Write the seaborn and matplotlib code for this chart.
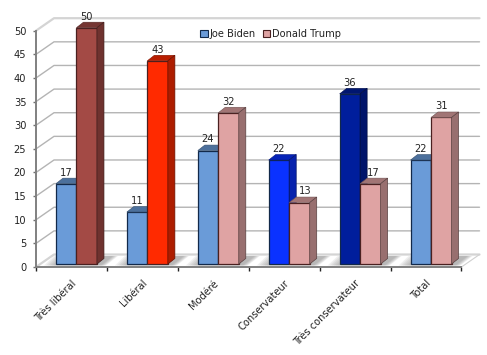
import matplotlib
matplotlib.use('Agg')
import matplotlib.pyplot as plt
from matplotlib.colors import to_rgb
from matplotlib.patches import Polygon
import pandas as pd
import seaborn as sns

groups = ['Très libéral', 'Libéral', 'Modéré', 'Conservateur', 'Très conservateur', 'Total']
biden = [17, 11, 24, 22, 36, 22]
trump = [50, 43, 32, 13, 17, 31]
biden_colors = ['#6a9bd8', '#6a9bd8', '#6a9bd8', '#0a32ff', '#001e9c', '#6a9bd8']
trump_colors = ['#a34a45', '#ff2a00', '#dfa3a3', '#dfa3a3', '#dfa3a3', '#dfa3a3']
y_ticks = list(range(0, 55, 5))

df = pd.DataFrame({
    'group': groups * 2,
    'value': biden + trump,
    'candidate': ['Joe Biden'] * 6 + ['Donald Trump'] * 6,
})

sns.set_theme(style='white')
plt.rcParams['font.family'] = ['DejaVu Sans']

W, H = 487, 355
fs = 7.1
fig = plt.figure(figsize=(W / 100, H / 100), dpi=100)
ax = fig.add_axes([36 / W, 1 - 267 / H, 425.5 / W, 236.3 / H])

sns.barplot(ax=ax, data=df, x='group', y='value', hue='candidate', order=groups,
            palette={'Joe Biden': '#6a9bd8', 'Donald Trump': '#dfa3a3'},
            width=0.578, gap=0, legend=False)
ax.set_xlim(-0.5, 5.5)
ax.set_ylim(0, 50)
ax.set_xlabel('')
ax.set_ylabel('')

# pixels to data units
px = 1 / (425.5 / 6)
py = 1 / (236.3 / 50)


def darker(color, k):
    return tuple(c * k for c in to_rgb(color))


# back wall and floor
wall_dx, wall_dy = 18 * px, 12.5 * py
for t in y_ticks:
    c = '#d4d4d4' if t in (0, 50) else '#b4b4b4'
    lw = 1.6 if t in (0, 50) else 1.0
    ax.plot([-0.5, -0.5 + wall_dx, 5.5 + wall_dx], [t, t + wall_dy, t + wall_dy],
            color=c, lw=lw, clip_on=False, zorder=1)
ax.plot([5.5, 5.5 + wall_dx], [0, wall_dy], color='#d0d0d0', lw=0.8, clip_on=False, zorder=1)

# bars are pushed a little into the floor, then get their 3d faces
shift_x, shift_y = 5 * px, 3 * py
depth_x, depth_y = 7 * px, 5.5 * py
edges = ['#12294a', '#4a2020']
# labels that sit off-centre to clear the bar next to them, px to the right
nudges = {(1, 3): 6, (1, 4): 3}
for j, (cont, colors) in enumerate(zip(ax.containers, [biden_colors, trump_colors])):
    for i, (patch, color) in enumerate(zip(cont, colors)):
        patch.set_x(patch.get_x() + shift_x)
        patch.set_y(shift_y)
        patch.set_facecolor(color)
        patch.set_edgecolor(edges[j])
        patch.set_linewidth(0.9)
        patch.set_clip_on(False)
        patch.set_zorder(3 + j)
        x0 = patch.get_x()
        x1 = x0 + patch.get_width()
        y1 = shift_y + patch.get_height()
        top = [(x0, y1), (x1, y1), (x1 + depth_x, y1 + depth_y), (x0 + depth_x, y1 + depth_y)]
        side = [(x1, shift_y), (x1, y1), (x1 + depth_x, y1 + depth_y), (x1 + depth_x, shift_y + depth_y)]
        ax.add_patch(Polygon(top, fc=darker(color, 0.72), ec=darker(color, 0.5), lw=0.4,
                             clip_on=False, zorder=3 + j))
        ax.add_patch(Polygon(side, fc=darker(color, 0.68), ec=darker(color, 0.4), lw=0.5,
                             clip_on=False, zorder=3 + j))
        ax.annotate(str(round(patch.get_height())), ((x0 + x1) / 2, y1),
                    xytext=(nudges.get((j, i), 0) * 0.72, 8),
                    textcoords='offset points', ha='center', va='center', fontsize=fs,
                    color='#222222', annotation_clip=False, zorder=6)

# soft shadow on the floor around each group
for i in range(len(groups)):
    center = i + shift_x
    for k in range(6):
        left = center - 0.289 - (12 - k * 2) * px
        right = center + 0.289 + (9 - k) * px
        ax.add_patch(Polygon([(left, 1.5 * py), (right, 1.5 * py),
                              (right + 12 * px, 11 * py), (left + 10 * px, 11 * py)],
                             fc='#707070', ec='none', alpha=0.1, clip_on=False, zorder=2))

# axes
for s in ['top', 'right']:
    ax.spines[s].set_visible(False)
ax.spines['left'].set_color('#808080')
ax.spines['left'].set_linewidth(1.4)
ax.spines['bottom'].set_color('#808080')
ax.spines['bottom'].set_linewidth(1.4)
ax.spines['left'].set_zorder(7)
ax.spines['bottom'].set_zorder(7)

ax.set_yticks(y_ticks)
ax.tick_params(axis='y', which='major', left=True, length=2.5, width=1, color='#707070',
               labelsize=fs, labelcolor='#222222', pad=4.5)
ax.set_xticks([i - 0.5 for i in range(len(groups) + 1)])
ax.set_xticklabels([])
ax.set_xticks(range(len(groups)), minor=True)
ax.set_xticklabels(groups, minor=True, rotation=45, ha='right', rotation_mode='anchor',
                   fontsize=fs, color='#222222')
ax.tick_params(axis='x', which='major', bottom=True, length=3, width=1, color='#222222')
ax.tick_params(axis='x', which='minor', bottom=False, length=0, pad=8)

handles = [plt.Rectangle((0, 0), 1, 1, fc='#6a9bd8', ec='#12294a', lw=0.8),
           plt.Rectangle((0, 0), 1, 1, fc='#dfa3a3', ec='#4a2020', lw=0.8)]
ax.legend(handles, ['Joe Biden', 'Donald Trump'], ncol=2, frameon=False, fontsize=fs,
          loc='center left', bbox_to_anchor=(0.365, 0.987), handlelength=0.75, handleheight=0.8,
          handletextpad=0.2, columnspacing=0.7, labelcolor='#222222').set_zorder(8)

plt.savefig('out.png', dpi=100)
